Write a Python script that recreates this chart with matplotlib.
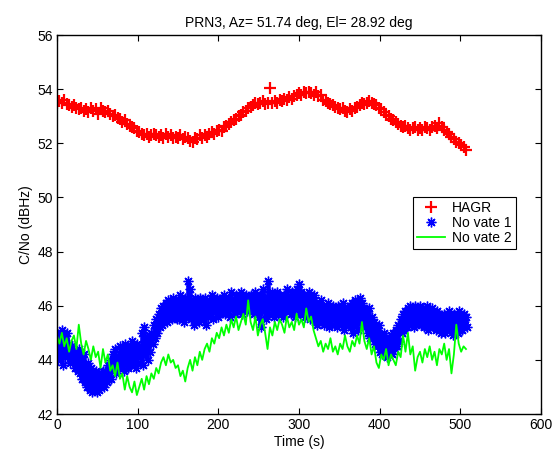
import numpy as np
import matplotlib
matplotlib.use("Agg")
import matplotlib.pyplot as plt

plt.rcParams['font.family'] = ['Liberation Sans', 'DejaVu Sans']

title = "PRN3, Az= 51.74 deg, El= 28.92 deg"
xlabel = "Time (s)"
ylabel = "C/No (dBHz)"
labels = ["HAGR", "No vate 1", "No vate 2"]
xticks = [0, 100, 200, 300, 400, 500, 600]
yticks = [42, 44, 46, 48, 50, 52, 54, 56]

t = np.arange(0, 508, 3.0)
t_b = t + 1.5

red = [53.5, 53.55, 53.5, 53.6, 53.45, 53.4, 53.35, 53.4, 53.3, 53.25,
       53.3, 53.2, 53.25, 53.15, 53.3, 53.2, 53.25, 53.1, 53.3, 53.2,
       53.15, 53.2, 53.1, 53.0, 53.05, 52.95, 52.9, 52.8, 52.85, 52.7,
       52.65, 52.6, 52.55, 52.45, 52.4, 52.35, 52.3, 52.35, 52.25, 52.3,
       52.35, 52.3, 52.25, 52.3, 52.2, 52.35, 52.25, 52.3, 52.2, 52.25,
       52.2, 52.3, 52.15, 52.25, 52.2, 52.1, 52.05, 52.2, 52.15, 52.3,
       52.2, 52.3, 52.25, 52.35, 52.4, 52.35, 52.45, 52.5, 52.45, 52.6,
       52.65, 52.7, 52.8, 52.85, 52.9, 53.0, 53.05, 53.15, 53.2, 53.3,
       53.35, 53.4, 53.5, 53.45, 53.5, 53.55, 53.45, 53.5, 54.05, 53.5,
       53.55, 53.5, 53.6, 53.55, 53.65, 53.6, 53.7, 53.65, 53.75, 53.8,
       53.85, 53.8, 53.9, 53.85, 53.9, 53.85, 53.8, 53.9, 53.75, 53.8,
       53.6, 53.55, 53.5, 53.45, 53.4, 53.35, 53.3, 53.25, 53.3, 53.2,
       53.15, 53.25, 53.2, 53.3, 53.35, 53.4, 53.5, 53.45, 53.5, 53.55,
       53.5, 53.45, 53.4, 53.3, 53.25, 53.15, 53.05, 53.0, 52.9, 52.85,
       52.8, 52.7, 52.65, 52.6, 52.65, 52.55, 52.5, 52.55, 52.6, 52.5,
       52.55, 52.5, 52.6, 52.55, 52.5, 52.6, 52.65, 52.55, 52.75, 52.6,
       52.5, 52.4, 52.35, 52.25, 52.15, 52.05, 52.0, 51.95, 51.85, 51.75]

blue_a = [45.0, 44.9, 45.1, 44.8, 45.0, 44.6, 44.5, 44.3, 44.2, 44.4,
          44.1, 44.2, 43.8, 43.9, 43.7, 43.5, 43.6, 43.4, 43.5, 43.6,
          43.6, 43.8, 44.0, 44.2, 44.4, 44.1, 44.5, 44.3, 44.6, 44.4,
          44.5, 44.7, 44.4, 44.6, 44.5, 45.0, 45.2, 44.8, 44.9, 45.0,
          45.3, 45.5, 45.7, 45.9, 46.0, 46.1, 46.2, 46.0, 46.3, 46.1,
          46.2, 46.4, 46.1, 46.3, 46.9, 46.6, 46.2, 46.3, 46.1, 46.3,
          46.2, 46.3, 46.1, 46.2, 46.4, 46.2, 46.3, 46.1, 46.3, 46.4,
          46.2, 46.3, 46.5, 46.2, 46.4, 46.3, 46.5, 46.2, 46.4, 46.3,
          46.4, 46.3, 46.5, 46.2, 46.4, 46.6, 46.3, 46.9, 46.4, 46.5,
          46.3, 46.5, 46.4, 46.2, 46.4, 46.6, 46.3, 46.5, 46.4, 46.6,
          46.8, 46.5, 46.4, 46.3, 46.5, 46.2, 46.4, 46.1, 46.0, 46.2,
          46.0, 45.9, 46.1, 45.9, 46.0, 45.8, 46.0, 45.9, 46.1, 45.9,
          45.8, 46.0, 46.1, 46.2, 46.0, 46.3, 46.1, 45.9, 45.8, 45.9,
          45.6, 45.4, 45.2, 45.3, 44.9, 45.0, 44.8, 44.7, 44.9, 45.0,
          45.1, 45.3, 45.5, 45.7, 45.8, 45.9, 46.0, 45.8, 46.0, 45.9,
          46.0, 45.8, 45.9, 46.0, 45.8, 45.9, 45.7, 45.8, 45.7, 45.6,
          45.7, 45.6, 45.8, 45.5, 45.7, 45.6, 45.8, 45.6, 45.7, 45.6]

blue_b = [44.0, 44.2, 43.8, 44.1, 44.3, 43.9, 44.0, 43.7, 43.6, 43.5,
          43.3, 43.2, 43.0, 42.9, 42.8, 43.0, 42.8, 42.9, 43.1, 43.0,
          43.2, 43.4, 43.3, 43.6, 43.5, 43.7, 43.8, 43.6, 43.9, 43.7,
          43.8, 44.0, 43.7, 43.9, 44.1, 43.8, 44.2, 44.0, 44.3, 44.6,
          44.8, 45.0, 45.2, 45.3, 45.5, 45.4, 45.6, 45.5, 45.6, 45.5,
          45.5, 45.6, 45.4, 45.6, 45.7, 45.5, 45.3, 45.6, 45.4, 45.6,
          45.5, 45.3, 45.6, 45.7, 45.5, 45.8, 45.6, 45.7, 45.9, 45.7,
          45.8, 45.6, 45.9, 45.7, 45.8, 46.0, 45.7, 45.9, 45.8, 46.0,
          45.8, 45.7, 45.9, 45.6, 45.2, 45.8, 45.5, 45.7, 45.9, 45.6,
          45.8, 45.7, 45.9, 45.6, 45.8, 45.9, 45.7, 45.8, 45.6, 45.9,
          45.7, 45.8, 45.6, 45.7, 45.5, 45.6, 45.4, 45.3, 45.5, 45.4,
          45.3, 45.4, 45.2, 45.3, 45.5, 45.2, 45.4, 45.3, 45.1, 45.3,
          45.4, 45.2, 45.0, 45.3, 45.1, 45.4, 45.2, 45.3, 45.0, 44.8,
          44.8, 44.6, 44.5, 44.3, 44.2, 44.4, 44.1, 44.3, 44.2, 44.4,
          44.5, 44.7, 45.0, 45.1, 45.2, 45.3, 45.4, 45.2, 45.3, 45.4,
          45.3, 45.2, 45.4, 45.1, 45.3, 45.2, 45.1, 45.2, 45.0, 45.1,
          45.0, 45.2, 45.1, 44.9, 45.1, 45.0, 45.2, 45.1, 45.3, 45.2]

green = [44.9, 44.6, 45.0, 44.5, 44.8, 44.3, 44.7, 44.9, 44.4, 45.3,
         44.6, 44.2, 44.7, 44.4, 44.0, 44.5, 44.1, 44.3, 43.7, 44.4,
         43.9, 44.2, 43.6, 43.8, 43.4, 43.9, 43.3, 43.5, 42.9, 43.4,
         43.0, 42.8, 43.2, 42.7, 43.0, 43.3, 42.9, 43.4, 43.1, 43.5,
         43.3, 43.7, 43.5, 43.9, 44.1, 43.8, 44.2, 43.9, 44.0, 43.7,
         43.8, 43.4, 43.6, 43.2, 43.7, 44.0, 43.6, 44.1, 43.8, 44.3,
         44.0, 44.4, 44.6, 44.3, 44.8, 44.6, 45.0, 44.8, 45.2, 44.9,
         45.3, 45.0, 45.5, 45.2, 45.6, 45.1, 45.4, 45.7, 45.3, 46.2,
         45.4, 45.1, 45.6, 44.9, 45.3, 45.5, 45.0, 44.4, 45.2, 44.9,
         45.4, 45.1, 45.5, 45.3, 45.0, 45.6, 45.2, 45.4, 45.1, 45.7,
         45.3, 45.5, 45.2, 45.9, 45.4, 45.6, 45.1, 44.8, 44.5, 44.7,
         44.3, 44.6, 44.4, 44.8, 44.3, 44.5, 44.2, 44.6, 44.4, 44.9,
         44.5, 44.3, 44.7, 44.5, 44.9, 44.6, 45.4, 44.7, 44.4, 44.8,
         44.2, 44.5, 43.9, 43.7, 44.2, 44.0, 44.4, 43.8, 44.2, 44.0,
         43.8, 44.3, 44.1, 44.9, 44.3, 45.0, 44.2, 44.5, 43.6, 44.1,
         44.3, 43.9, 44.4, 44.1, 44.5, 44.0, 44.3, 43.8, 44.4, 44.2,
         44.6, 44.0, 44.4, 43.5, 44.2, 45.3, 44.6, 44.3, 44.5, 44.4]

fig = plt.figure(figsize=(5.56, 4.65), dpi=100)
ax = fig.add_axes([57/556, 1 - 414/465, 484/556, 379/465])

red_c = '#ff0000'
blue_c = '#0000ff'
green_c = '#00ff00'

ax.plot(t, red, linestyle='none', marker='+', color=red_c,
        markersize=8, markeredgewidth=1.6, label=labels[0])

# dense band of blue samples
ax.vlines(t, blue_b, blue_a, color=blue_c, linewidth=2.6)
ax.vlines(t_b, blue_b, blue_a, color=blue_c, linewidth=2.6)
ax.plot(np.concatenate([t, t_b]), np.concatenate([blue_a, blue_b]),
        linestyle='none', marker=(8, 2, 0), color=blue_c, markersize=7,
        markeredgewidth=1.0, label=labels[1])
ax.plot(t, green, color=green_c, linewidth=1.3, label=labels[2])

ax.set_xlim(0, 600)
ax.set_ylim(42, 56)
ax.set_xticks(xticks)
ax.set_yticks(yticks)
ax.tick_params(direction='in', top=True, right=True, length=4,
               width=0.8, labelsize=10, pad=3)
for s in ax.spines.values():
    s.set_linewidth(1.0)

ax.set_title(title, fontsize=10, pad=6)
ax.set_xlabel(xlabel, fontsize=10, labelpad=2)
ax.set_ylabel(ylabel, fontsize=10, labelpad=3)

leg = ax.legend(loc='upper left', bbox_to_anchor=(0.7355, 0.5726),
                borderaxespad=0, fancybox=False, edgecolor='black',
                framealpha=1, fontsize=10, labelspacing=0.05,
                handlelength=2.0, handletextpad=0.5, borderpad=0.3)
leg.get_frame().set_linewidth(0.8)

fig.savefig("out.png", dpi=100)
